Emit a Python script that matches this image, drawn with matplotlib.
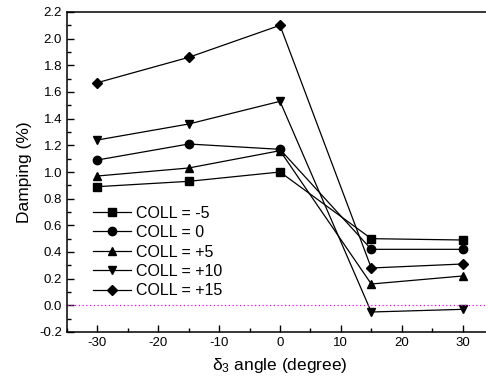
import matplotlib
matplotlib.use('Agg')
import matplotlib.pyplot as plt
from matplotlib.ticker import MultipleLocator

plt.rcParams['font.family'] = ['Liberation Sans', 'DejaVu Sans']
plt.rcParams['mathtext.fontset'] = 'custom'
plt.rcParams['mathtext.rm'] = 'Liberation Sans'
plt.rcParams['mathtext.it'] = 'Liberation Sans'
plt.rcParams['axes.unicode_minus'] = False

angles = [-30, -15, 0, 15, 30]
coll_m5 = [0.89, 0.93, 1.00, 0.50, 0.49]
coll_0 = [1.09, 1.21, 1.17, 0.42, 0.42]
coll_p5 = [0.97, 1.03, 1.16, 0.16, 0.22]
coll_p10 = [1.24, 1.36, 1.53, -0.05, -0.03]
coll_p15 = [1.67, 1.86, 2.10, 0.28, 0.31]

series = [
    ('COLL = -5', coll_m5, 's'),
    ('COLL = 0', coll_0, 'o'),
    ('COLL = +5', coll_p5, '^'),
    ('COLL = +10', coll_p10, 'v'),
    ('COLL = +15', coll_p15, 'D'),
]

fig = plt.figure(figsize=(4.86, 3.84), dpi=100)
ax = fig.add_axes([67/486, 1-332/384, (493-67)/486, 320/384])

for label, vals, mk in series:
    ms = 6 if mk != 'D' else 5.5
    ax.plot(angles, vals, color='black', lw=0.9, marker=mk, ms=ms, label=label)

ax.axhline(0, color='magenta', lw=0.9, ls=(0, (1, 2)))

ax.set_xlim(-35, 35)
ax.set_ylim(-0.2, 2.2)
ax.xaxis.set_major_locator(MultipleLocator(10))
ax.xaxis.set_minor_locator(MultipleLocator(5))
ax.yaxis.set_major_locator(MultipleLocator(0.2))
ax.yaxis.set_minor_locator(MultipleLocator(0.1))
ax.yaxis.set_major_formatter(matplotlib.ticker.FormatStrFormatter('%.1f'))
ax.tick_params(which='both', direction='in', top=False, right=False, labelsize=9.5, width=1)
ax.tick_params(which='major', length=5)
ax.tick_params(which='minor', length=3)
for s in ax.spines.values():
    s.set_linewidth(1.1)

ax.set_xlabel(r'$\delta_3$ angle (degree)', fontsize=12.5, labelpad=5)
ax.set_ylabel('Damping (%)', fontsize=12.5, labelpad=5)

ax.legend(loc='upper left', bbox_to_anchor=(0.045, 0.415), frameon=False, fontsize=11.5,
          handlelength=2.4, handletextpad=0.3, labelspacing=0.28, borderaxespad=0)

fig.savefig('out.png', dpi=100)
